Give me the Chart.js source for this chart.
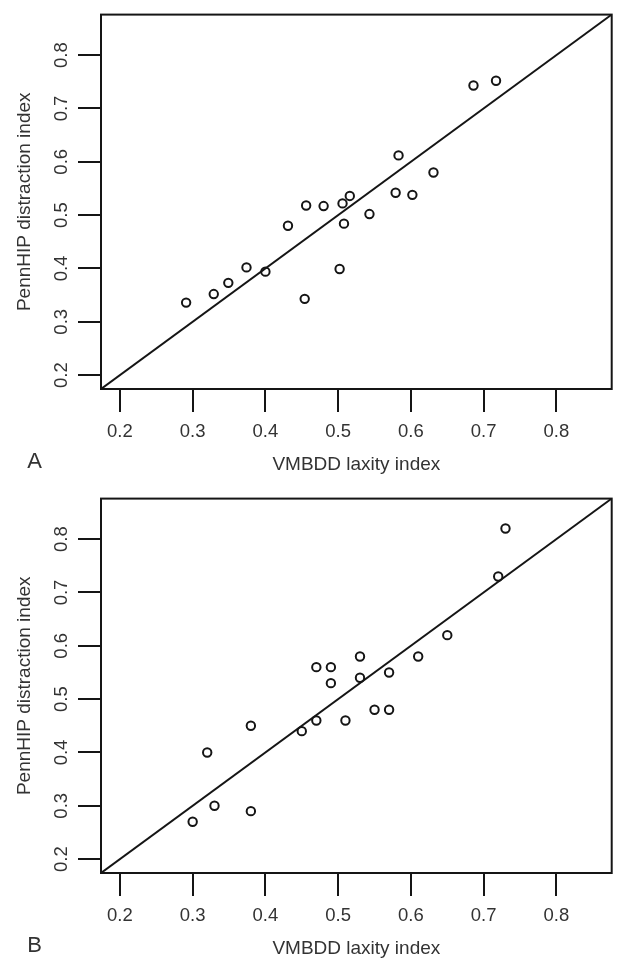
<!DOCTYPE html>
<html><head><meta charset="utf-8">
<script src="https://cdn.jsdelivr.net/npm/chart.js@4/dist/chart.umd.min.js"></script>
<style>
html,body{margin:0;padding:0;background:#fff;overflow:hidden;width:622px;height:962px;}
.panel{position:absolute;left:0;width:622px;height:477px;}
</style></head><body>
<div class="panel" style="top:0"><canvas id="cA" width="622" height="477"></canvas></div>
<div class="panel" style="top:484px"><canvas id="cB" width="622" height="477"></canvas></div>
<script>
// ---- data ----
const tickValues = [0.2, 0.3, 0.4, 0.5, 0.6, 0.7, 0.8];
const axisRange = [0.174, 0.876];
const panelLabels = ['A', 'B'];
const xTitle = 'VMBDD laxity index';
const yTitle = 'PennHIP distraction index';

const laxityA = [0.291,0.329,0.349,0.374,0.400,0.431,0.454,0.456,0.480,0.502,0.506,0.508,0.516,0.543,0.579,0.583,0.602,0.631,0.686,0.717];
const distractionA = [0.336,0.352,0.373,0.402,0.394,0.480,0.343,0.518,0.517,0.399,0.522,0.484,0.536,0.502,0.542,0.612,0.538,0.580,0.743,0.752];

const laxityB = [0.30,0.32,0.33,0.38,0.38,0.45,0.47,0.47,0.49,0.49,0.51,0.53,0.53,0.55,0.57,0.57,0.61,0.65,0.72,0.73];
const distractionB = [0.27,0.40,0.30,0.29,0.45,0.44,0.46,0.56,0.56,0.53,0.46,0.58,0.54,0.48,0.55,0.48,0.58,0.62,0.73,0.82];

// ---- styling ----
const FONT = "'Liberation Sans', Arial, Helvetica, sans-serif";
const TEXT = '#333';
const INK = '#151515';

function makePanel(canvasId, xs, ys, label) {
  const pts = xs.map((x, i) => ({x: x, y: ys[i]}));
  const identity = axisRange.map(v => ({x: v, y: v}));
  const boxPlugin = {
    id: 'box' + label,
    afterDraw(chart) {
      const {ctx, chartArea: a} = chart;
      ctx.save();
      ctx.strokeStyle = INK;
      ctx.lineWidth = 2;
      ctx.strokeRect(a.left, a.top, a.right - a.left, a.bottom - a.top);
      ctx.fillStyle = TEXT;
      ctx.font = '22px ' + FONT;
      ctx.textAlign = 'center';
      ctx.textBaseline = 'middle';
      ctx.fillText(label, 34.5, 462);
      ctx.restore();
    }
  };
  const tickFont = {family: FONT, size: 18.5};
  const titleFont = {family: FONT, size: 19};
  const gridOpts = {display: true, drawOnChartArea: false, drawTicks: true, tickLength: 23, color: INK, lineWidth: 2};
  return new Chart(document.getElementById(canvasId), {
    type: 'scatter',
    data: {
      datasets: [
        {data: pts, pointStyle: 'circle', pointRadius: 4.2, pointBorderWidth: 2,
         borderColor: INK, backgroundColor: 'rgba(0,0,0,0)', pointHoverRadius: 4.2},
        {data: identity, showLine: true, pointRadius: 0, borderColor: INK, borderWidth: 2, fill: false}
      ]
    },
    options: {
      responsive: false, animation: false, devicePixelRatio: 1,
      layout: {padding: {top: 9.5, right: 10.3, left: 0, bottom: 0}},
      plugins: {legend: {display: false}, tooltip: {enabled: false}},
      scales: {
        x: {
          type: 'linear', min: axisRange[0], max: axisRange[1],
          afterBuildTicks: s => { s.ticks = tickValues.map(v => ({value: v})); },
          afterFit: s => { s.height = 88; },
          grid: gridOpts,
          border: {display: false},
          ticks: {font: tickFont, color: TEXT, padding: 9, autoSkip: false, maxRotation: 0,
                  callback: v => Number(v).toFixed(1)},
          title: {display: true, text: xTitle, font: titleFont, color: TEXT, padding: {top: 0, bottom: 1}}
        },
        y: {
          type: 'linear', min: axisRange[0], max: axisRange[1],
          afterBuildTicks: s => { s.ticks = tickValues.map(v => ({value: v})); },
          afterFit: s => { s.width = 101; },
          grid: gridOpts,
          border: {display: false},
          ticks: {font: tickFont, color: TEXT, padding: 3.5, autoSkip: false, minRotation: 90, maxRotation: 90,
                  crossAlign: 'center', callback: v => Number(v).toFixed(1)},
          title: {display: true, text: yTitle, font: titleFont, color: TEXT, padding: {top: 13.5, bottom: 0}}
        }
      }
    },
    plugins: [boxPlugin]
  });
}

makePanel('cA', laxityA, distractionA, panelLabels[0]);
makePanel('cB', laxityB, distractionB, panelLabels[1]);
</script>
</body></html>
